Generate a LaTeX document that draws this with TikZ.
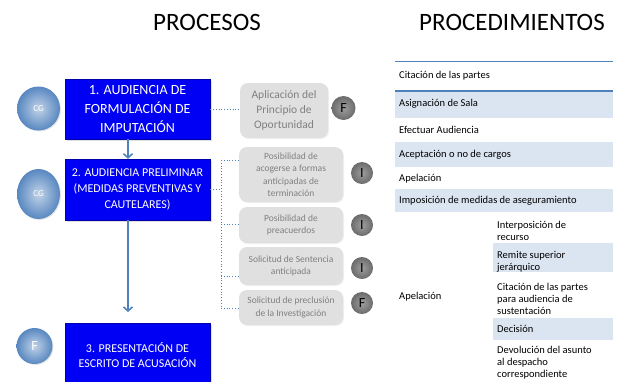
\documentclass[tikz,border=0pt]{standalone}
\usepackage{fontspec}
\setmainfont{Carlito}
\usetikzlibrary{arrows.meta,shapes.geometric,shadows}
\definecolor{procblue}{RGB}{0,0,245}
\definecolor{linkblue}{RGB}{79,129,189}
\definecolor{rowblue}{RGB}{219,229,241}
\colorlet{optgrey}{black!12}
\colorlet{opttext}{black!50}

\begin{document}
\begin{tikzpicture}[x=1pt,y=-1pt,
    head/.style={inner sep=0pt,font=\fontsize{25}{30}\selectfont},
    proc/.style={draw=procblue!70!black,fill=procblue,text=white,align=center,minimum width=145pt,inner sep=0pt,
        drop shadow={opacity=0.25,shadow xshift=1.5pt,shadow yshift=-1.5pt}},
    opt/.style={rounded corners=8pt,fill=optgrey,text=opttext,align=center,inner sep=0pt,minimum width=104pt,
        font=\fontsize{9.5}{12.5}\selectfont,drop shadow={opacity=0.12,shadow xshift=1pt,shadow yshift=-1pt}},
    tag/.style={circle,inner color=black!38,outer color=black!58,minimum size=22pt,inner sep=0pt,
        font=\fontsize{14}{14}\selectfont},
    cg/.style={ellipse,inner color=linkblue!35!white,outer color=linkblue!95!white,text=white,inner sep=0pt,
        drop shadow={opacity=0.2,shadow xshift=1pt,shadow yshift=-1pt}},
    link/.style={linkblue,dotted,line width=0.8pt},
    flow/.style={linkblue,line width=1.6pt,-{Straight Barb[length=4pt,width=9pt]}},
    cell/.style={anchor=west,align=left,inner sep=0pt,font=\fontsize{10.5}{12}\selectfont}]
    \path[use as bounding box,clip] (0,0) rectangle (623,381);

    \node[head] (procesos) at (207,22) {PROCESOS};
    \node[head] (procedimientos) at (512,22) {PROCEDIMIENTOS};

    \node[proc,minimum height=60pt,font=\fontsize{14}{19}\selectfont] (p1) at (137.5,109) {1. AUDIENCIA DE\\FORMULACIÓN DE\\IMPUTACIÓN};
    \node[proc,minimum height=61pt,font=\fontsize{12}{16}\selectfont] (p2) at (137.5,189.5) {2. AUDIENCIA PRELIMINAR\\(MEDIDAS PREVENTIVAS Y\\CAUTELARES)};
    \node[proc,minimum height=64pt,font=\fontsize{12}{14.5}\selectfont] (p3) at (137.5,355) {3. PRESENTACIÓN DE\\ESCRITO DE ACUSACIÓN};

    \node[cg,minimum width=43pt,minimum height=44pt,font=\fontsize{9}{9}\selectfont] (cg1) at (38.5,108.5) {CG};
    \node[cg,minimum width=43pt,minimum height=50pt,font=\fontsize{9}{9}\selectfont] (cg2) at (38.5,194) {CG};
    \node[cg,minimum width=36pt,minimum height=36pt,font=\fontsize{14}{14}\selectfont] (cg3) at (34.5,346) {F};

    \coordinate (ax) at (128,0);
    \coordinate (end) at (128,312);
    \draw[flow] (p1.south -| ax) -- (p2.north -| ax);
    \draw[flow] (p2.south -| ax) -- (end);

    \node[opt,minimum width=88pt,minimum height=55pt,font=\fontsize{11.5}{15}\selectfont] (g1) at (284,110.5) {Aplicación del\\Principio de\\Oportunidad};
    \node[opt,minimum height=55pt] (g2) at (291,174.5) {Posibilidad de\\acogerse a formas\\anticipadas de\\terminación};
    \node[opt,minimum height=36pt] (g3) at (291,225) {Posibilidad de\\preacuerdos};
    \node[opt,minimum height=38pt] (g4) at (291,266) {Solicitud de Sentencia\\anticipada};
    \node[opt,minimum height=35pt] (g5) at (291,307.5) {Solicitud de preclusión\\de la Investigación};

    \node[tag,minimum size=24pt] (t1) at (343.5,108) {F};
    \foreach \n/\y/\l in {2/173/I,3/225/I,4/268/I,5/303/F}{
        \node[tag] (t\n) at (362,\y) {\l};
    }

    \draw[link] (p1.east) -- (p1.east -| g1.west);
    \coordinate (b2) at (221,160);
    \coordinate (b3) at (221,224);
    \coordinate (b4) at (221,276);
    \coordinate (b5) at (221,308);
    \draw[link] (p2.east) -- (p2.east -| b2);
    \draw[link] (b2) -- (b5);
    \foreach \n in {2,3,4,5}{
        \draw[link] (b\n) -- (b\n -| g\n.west);
    }

    \foreach \a/\b in {91/118,142/167,189/212}{
        \fill[rowblue] (395,\a) rectangle (613,\b);
    }
    \foreach \a/\b in {243/272,318/340}{
        \fill[rowblue] (493,\a) rectangle (613,\b);
    }
    \draw[linkblue,line width=0.8pt] (395,61) -- (613,61);
    \draw[linkblue,line width=1.2pt] (395,91) -- (613,91);

    \foreach \y/\t [count=\i] in {76/Citación de las partes,104/Asignación de Sala,130/Efectuar Audiencia,
        155/Aceptación o no de cargos,179/Apelación,201/Imposición de medidas de aseguramiento,297/Apelación}{
        \node[cell] (r\i) at (399,\y) {\t};
    }
    \node[cell] (s1) at (497,230.5) {Interposición de\\recurso};
    \node[cell] (s2) at (497,262) {Remite superior\\jerárquico};
    \node[cell] (s3) at (497,299) {Citación de las partes\\para audiencia de\\sustentación};
    \node[cell] (s4) at (497,329) {Decisión};
    \node[cell] (s5) at (497,363) {Devolución del asunto\\al despacho\\correspondiente};
\end{tikzpicture}
\end{document}
